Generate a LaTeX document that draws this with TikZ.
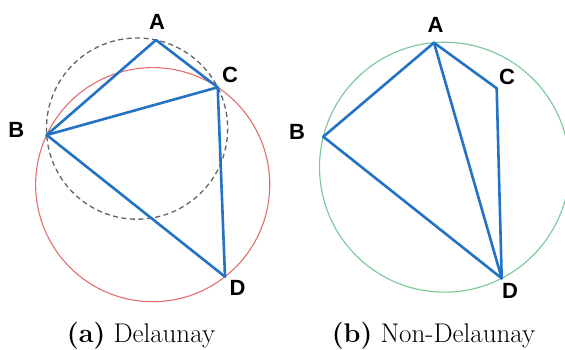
\documentclass[tikz,border=0pt]{standalone}
\usepackage{fontspec}
\newfontfamily\labfont{Liberation Sans}
\definecolor{edgeblue}{RGB}{35,114,196}
\definecolor{circred}{RGB}{226,110,110}
\definecolor{circgreen}{RGB}{120,200,150}
\definecolor{circgray}{RGB}{100,100,100}
\tikzset{
  edge/.style={draw=edgeblue, line width=2.6pt, line cap=round, line join=round},
  vlabel/.style={font=\labfont\bfseries\fontsize{22}{24}\selectfont, inner sep=0pt},
  caption/.style={font=\fontsize{27}{31}\selectfont, anchor=base, inner sep=0pt},
  redcirc/.style={draw=circred, line width=1.1pt},
  graycirc/.style={draw=circgray, line width=1.3pt, dash pattern=on 5pt off 3.5pt},
  greencirc/.style={draw=circgreen, line width=1.1pt}
}
\begin{document}
\begin{tikzpicture}[x=1pt,y=-1pt]
\useasboundingbox (0,0) rectangle (565,350);
% left panel vertices
\coordinate (A1) at (156,40);
\coordinate (B1) at (46.7,135);
\coordinate (C1) at (217.7,87.3);
\coordinate (D1) at (225,276.7);
% right panel vertices
\coordinate (A2) at (434,42.7);
\coordinate (B2) at (323.3,136.7);
\coordinate (C2) at (496.7,88.3);
\coordinate (D2) at (501.7,278.3);
% circles
\draw[redcirc] (152.7,184.65) circle[radius=117.05];
\draw[graycirc] (137.07,128.6) circle[radius=90.6];
\draw[greencirc] (444.5,167.2) circle[radius=124.96];
% edges left
\draw[edge] (A1) -- (B1);
\draw[edge] (A1) -- (C1);
\draw[edge] (B1) -- (C1);
\draw[edge] (C1) -- (D1);
\draw[edge] (B1) -- (D1);
% edges right
\draw[edge] (A2) -- (B2);
\draw[edge] (A2) -- (C2);
\draw[edge] (A2) -- (D2);
\draw[edge] (C2) -- (D2);
\draw[edge] (B2) -- (D2);
% labels left
\node[vlabel] (lA1) at (157,22) {A};
\node[vlabel] (lB1) at (16.3,130) {B};
\node[vlabel] (lC1) at (230,74.5) {C};
\node[vlabel] (lD1) at (237.5,287.5) {D};
% labels right
\node[vlabel] (lA2) at (435.5,25) {A};
\node[vlabel] (lB2) at (297,131.7) {B};
\node[vlabel] (lC2) at (507,76.5) {C};
\node[vlabel] (lD2) at (510,290.7) {D};
% captions
\node[caption] (capa) at (141,342) {\textbf{(a)} Delaunay};
\node[caption] (capb) at (433.5,342) {\textbf{(b)} Non-Delaunay};
\end{tikzpicture}
\end{document}
